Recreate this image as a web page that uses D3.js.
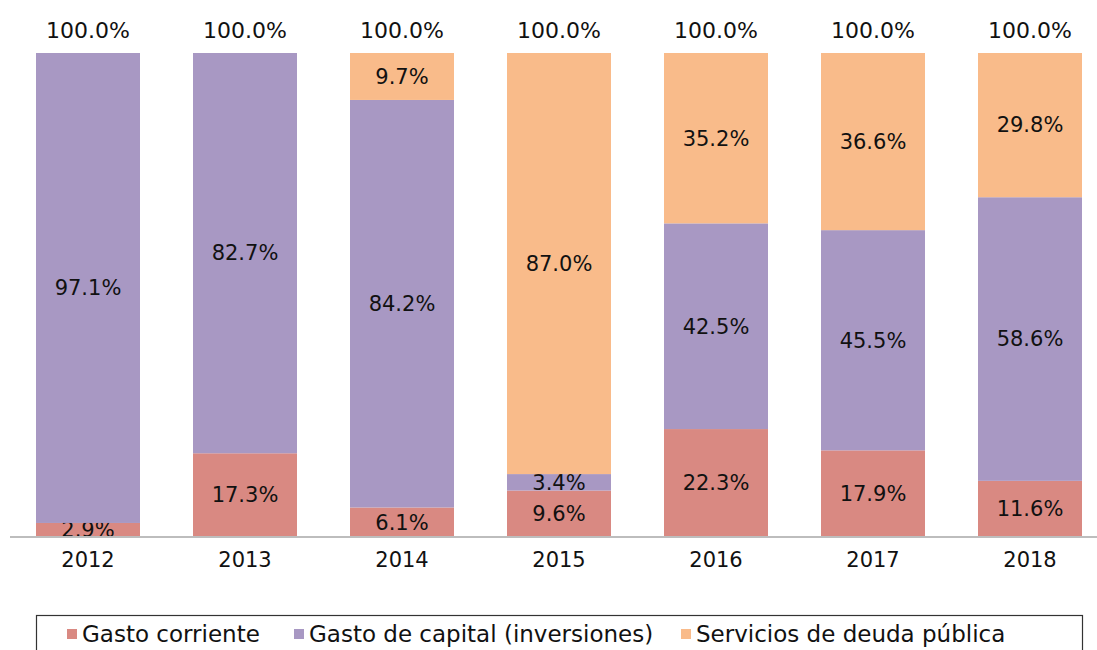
<!DOCTYPE html>
<html>
<head>
<meta charset="utf-8">
<script src="https://cdn.jsdelivr.net/npm/d3@7"></script>
<style>
  body { margin: 0; background: #fff; }
  text { font-family: "DejaVu Sans", sans-serif; fill: #111; }
</style>
</head>
<body>
<svg id="s" width="1097" height="650"></svg>
<script>
var years = ["2012", "2013", "2014", "2015", "2016", "2017", "2018"];
var corriente = [2.9, 17.3, 6.1, 9.6, 22.3, 17.9, 11.6];
var capital = [97.1, 82.7, 84.2, 3.4, 42.5, 45.5, 58.6];
var deuda = [0, 0, 9.7, 87.0, 35.2, 36.6, 29.8];
var totals = [100.0, 100.0, 100.0, 100.0, 100.0, 100.0, 100.0];
var seriesNames = ["Gasto corriente", "Gasto de capital (inversiones)", "Servicios de deuda pública"];
var colors = ["#d98982", "#a898c3", "#f9bb8a"];

var svg = d3.select("#s");

var x = d3.scaleBand().domain(years).range([36, 1082]).paddingInner(0.3376).paddingOuter(0);
var y = d3.scaleLinear().domain([0, 100]).range([537, 53]);

var rows = years.map(function(yr, i) {
    return { year: yr, c: corriente[i], k: capital[i], d: deuda[i] };
});
var stack = d3.stack().keys(["c", "k", "d"]);
var layers = stack(rows);

var groups = svg.selectAll("g.layer").data(layers).enter().append("g")
    .attr("class", "layer")
    .attr("fill", function(d, i) { return colors[i]; });

groups.selectAll("rect").data(function(d) { return d; }).enter().append("rect")
    .attr("x", function(d) { return x(d.data.year); })
    .attr("width", x.bandwidth())
    .attr("y", function(d) { return y(d[1]); })
    .attr("height", function(d) { return y(d[0]) - y(d[1]); });

// segment labels
groups.selectAll("text").data(function(d) { return d.filter(function(p) { return p[1] - p[0] > 0; }); })
    .enter().append("text")
    .attr("x", function(d) { return x(d.data.year) + x.bandwidth() / 2; })
    .attr("y", function(d) { return y((d[0] + d[1]) / 2); })
    .attr("dy", "0.35em")
    .attr("text-anchor", "middle")
    .attr("font-size", 21)
    .text(function(d) { return (d[1] - d[0]).toFixed(1) + "%"; });

// totals on top
svg.selectAll("text.total").data(totals).enter().append("text")
    .attr("class", "total")
    .attr("x", function(d, i) { return x(years[i]) + x.bandwidth() / 2; })
    .attr("y", 30)
    .attr("dy", "0.35em")
    .attr("text-anchor", "middle")
    .attr("font-size", 22)
    .text(function(d) { return d.toFixed(1) + "%"; });

// x axis
var axis = svg.append("g").attr("transform", "translate(0," + y(0) + ")")
    .call(d3.axisBottom(x).tickSize(0).tickPadding(15));
axis.select(".domain").attr("d", "M10,0H1097").attr("stroke", "#bdbdbd").attr("stroke-width", 2);
axis.selectAll("text").attr("font-size", 21).attr("font-family", "DejaVu Sans, sans-serif").attr("fill", "#111");

// legend
svg.append("rect").attr("x", 36.5).attr("y", 615.5).attr("width", 1046).attr("height", 60)
    .attr("fill", "none").attr("stroke", "#333").attr("stroke-width", 1.2);
var legX = [67, 294, 681];
var leg = svg.selectAll("g.leg").data(seriesNames).enter().append("g")
    .attr("class", "leg")
    .attr("transform", function(d, i) { return "translate(" + legX[i] + ",634)"; });
leg.append("rect").attr("x", 0).attr("y", -5).attr("width", 10).attr("height", 10)
    .attr("fill", function(d, i) { return colors[i]; });
leg.append("text").attr("x", 15).attr("dy", "0.35em").attr("font-size", 23).text(function(d) { return d; });
</script>
</body>
</html>
